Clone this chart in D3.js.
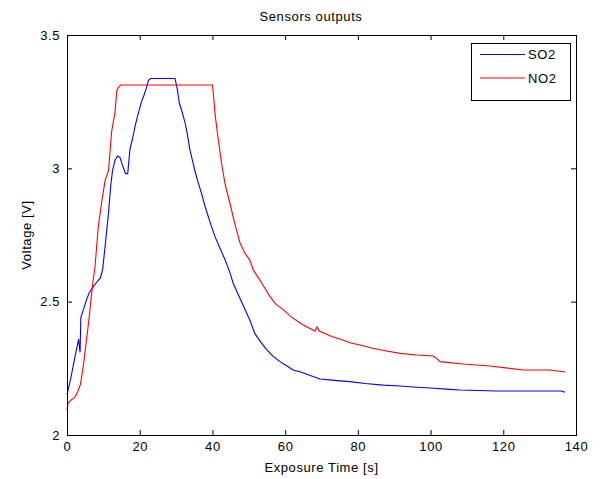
<!DOCTYPE html>
<meta charset="utf-8">
<head>
	<style>
		html, body {
			margin: 0;
			padding: 0;
			background-color: white;
		}
		svg text {
			font-family: "Liberation Sans", Arial, sans-serif;
			font-size: 13px;
			letter-spacing: 0.6px;
			fill: black;
		}
		.axis path {
			display: none;
		}
		.axis line {
			stroke: black;
		}
		.series {
			fill: none;
			stroke-width: 1.1;
		}
	</style>
	<title>Sensors outputs</title>
	<script src="https://d3js.org/d3.v7.min.js"></script>
</head>
<body>
	<script>

	// DATA
	var so2Time = [0, 1.0, 2.0, 3.2, 3.4, 3.6, 3.8, 4.5, 5.2, 6.0, 6.9, 8.0, 9.2, 9.8, 10.5, 11.4, 12.0, 12.5, 13.2, 13.9,
		14.6, 15.3, 16.1, 16.7, 17.3, 18.0, 18.7, 19.3, 19.9, 20.5, 21.2, 21.8, 22.4, 23.0, 29.7, 30.3, 30.9, 31.7, 32.5, 33.2,
		33.8, 34.5, 35.2, 36.0, 37.0, 38.0, 39.3, 40.7, 42.1, 43.5, 44.8, 45.7, 47.0, 48.0, 49.0, 50.3, 51.7, 53.2, 54.9, 56.7,
		58.6, 60.4, 62.2, 64.1, 66.5, 69.6, 73.5, 77.8, 82.0, 87.0, 91.6, 96.2, 100.0, 105.3, 108.0, 118.2, 130.0, 136.0, 137.0];
	var so2Volt = [2.15, 2.21, 2.28, 2.36, 2.33, 2.31, 2.44, 2.47, 2.50, 2.53, 2.55, 2.57, 2.59, 2.62, 2.71, 2.83, 2.93, 2.99, 3.03, 3.046,
		3.04, 3.01, 2.98, 2.98, 3.07, 3.11, 3.156, 3.19, 3.22, 3.25, 3.275, 3.30, 3.33, 3.337, 3.337, 3.30, 3.244, 3.21, 3.17, 3.12,
		3.07, 3.03, 2.99, 2.95, 2.906, 2.856, 2.80, 2.744, 2.70, 2.656, 2.61, 2.569, 2.53, 2.50, 2.47, 2.43, 2.38, 2.35, 2.32, 2.295,
		2.275, 2.26, 2.244, 2.237, 2.225, 2.21, 2.205, 2.20, 2.193, 2.187, 2.184, 2.179, 2.176, 2.171, 2.169, 2.165, 2.165, 2.165, 2.16];

	var no2Time = [0, 0.3, 1.0, 2.3, 3.0, 3.7, 4.6, 5.3, 6.0, 7.1, 7.7, 8.6, 9.5, 10.5, 11.4, 12.3, 13.2, 13.7, 14.2, 14.8,
		40.0, 40.4, 40.7, 41.3, 42.5, 43.5, 44.8, 46.2, 47.6, 49.0, 50.3, 51.2, 53.1, 55.8, 57.5, 59.5, 61.5, 64.1, 66.0, 68.2,
		68.8, 69.4, 72.8, 75.1, 77.8, 81.5, 84.0, 87.9, 91.6, 96.2, 100.7, 101.6, 102.6, 109.0, 116.3, 125.5, 132.8, 137.0];
	var no2Volt = [2.094, 2.12, 2.13, 2.144, 2.165, 2.19, 2.27, 2.35, 2.43, 2.57, 2.63, 2.78, 2.87, 2.956, 2.99, 3.14, 3.21, 3.29, 3.305, 3.3125,
		3.3125, 3.26, 3.206, 3.14, 3.02, 2.94, 2.87, 2.79, 2.72, 2.68, 2.656, 2.62, 2.58, 2.52, 2.49, 2.47, 2.445, 2.42, 2.405, 2.39,
		2.405, 2.39, 2.369, 2.36, 2.346, 2.335, 2.325, 2.315, 2.306, 2.30, 2.296, 2.288, 2.275, 2.266, 2.259, 2.244, 2.244, 2.236];

	var xTicks = [0, 20, 40, 60, 80, 100, 120, 140],
		yTicks = [2, 2.5, 3, 3.5],
		seriesNames = ['SO2', 'NO2'],
		seriesColors = ['#0000ff', '#ff0000'];

	// SETUP
	var margin = { top: 35, right: 24, bottom: 44, left: 67 },
		W = 600, H = 479,
		x = d3.scaleLinear().domain([0, 140]).range([margin.left, W - margin.right]),
		y = d3.scaleLinear().domain([2, 3.5]).range([H - margin.bottom, margin.top]);

	var svg = d3.select('body')
		.append('svg')
		.attr('width', W)
		.attr('height', H);

	var series = [
		{ name: seriesNames[0], color: seriesColors[0], pts: so2Time.map(function(t, i) { return [t, so2Volt[i]]; }) },
		{ name: seriesNames[1], color: seriesColors[1], pts: no2Time.map(function(t, i) { return [t, no2Volt[i]]; }) }
	];

	// AXES (ticks point inward like matlab)
	svg.append('g')
		.attr('class', 'axis')
		.attr('transform', 'translate(0,' + y(2) + ')')
		.call(d3.axisBottom(x).tickValues(xTicks).tickSizeInner(-5).tickSizeOuter(0).tickPadding(7));

	svg.append('g')
		.attr('class', 'axis')
		.attr('transform', 'translate(0,' + y(3.5) + ')')
		.call(d3.axisTop(x).tickValues(xTicks).tickSizeInner(-5).tickSizeOuter(0).tickFormat(''));

	svg.append('g')
		.attr('class', 'axis')
		.attr('transform', 'translate(' + x(0) + ',0)')
		.call(d3.axisLeft(y).tickValues(yTicks).tickSizeInner(-5).tickSizeOuter(0).tickPadding(7).tickFormat(d3.format('')));

	svg.append('g')
		.attr('class', 'axis')
		.attr('transform', 'translate(' + x(140) + ',0)')
		.call(d3.axisRight(y).tickValues(yTicks).tickSizeInner(-5).tickSizeOuter(0).tickFormat(''));

	svg.selectAll('.axis text')
		.attr('font-size', '13px')
		.attr('font-family', null);

	// LINES
	var line = d3.line()
		.x(function(d) { return x(d[0]); })
		.y(function(d) { return y(d[1]); });

	svg.selectAll('.series')
		.data(series)
		.enter().append('path')
		.attr('class', 'series')
		.attr('stroke', function(d) { return d.color; })
		.attr('d', function(d) { return line(d.pts); });

	// FRAME
	svg.append('rect')
		.attr('x', x(0) + 0.5)
		.attr('y', y(3.5) + 0.5)
		.attr('width', x(140) - x(0))
		.attr('height', y(2) - y(3.5))
		.attr('fill', 'none')
		.attr('stroke', 'black');

	// LABELS
	svg.append('text')
		.attr('x', 311)
		.attr('y', 21)
		.attr('text-anchor', 'middle')
		.text('Sensors outputs');

	svg.append('text')
		.attr('x', (x(0) + x(140)) / 2)
		.attr('y', 472)
		.attr('text-anchor', 'middle')
		.text('Exposure Time [s]');

	svg.append('text')
		.attr('transform', 'translate(31,' + (y(2) + y(3.5)) / 2 + ') rotate(-90)')
		.attr('text-anchor', 'middle')
		.text('Voltage [V]');

	// LEGEND
	var legend = svg.append('g')
		.attr('transform', 'translate(471,43)');

	legend.append('rect')
		.attr('x', 0.5)
		.attr('y', 0.5)
		.attr('width', 99)
		.attr('height', 57)
		.attr('fill', 'white')
		.attr('stroke', 'black');

	var items = legend.selectAll('.item')
		.data(series)
		.enter().append('g')
		.attr('class', 'item')
		.attr('transform', function(d, i) { return 'translate(0,' + (11.5 + i * 23.5) + ')'; });

	items.append('line')
		.attr('x1', 9)
		.attr('x2', 54)
		.attr('stroke', function(d) { return d.color; })
		.attr('stroke-width', 1.1);

	items.append('text')
		.attr('x', 57)
		.attr('dy', '0.35em')
		.text(function(d) { return d.name; });

	</script>
</body>
